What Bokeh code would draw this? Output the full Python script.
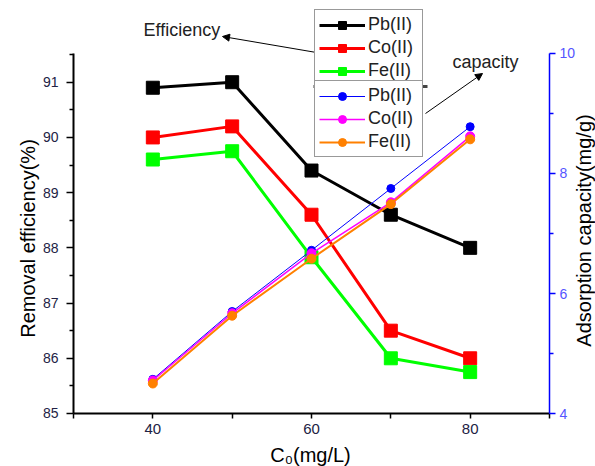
import math
from bokeh.plotting import figure
from bokeh.models import (Range1d, LinearAxis, FixedTicker, Legend, LegendItem,
                          Arrow, NormalHead, Label)
from bokeh.embed import file_html
from bokeh.resources import INLINE

# ---- data ----
conc = [40, 50, 60, 70, 80]
eff_pb = [90.9, 91.0, 89.4, 88.6, 88.0]
eff_co = [90.0, 90.2, 88.6, 86.5, 86.0]
eff_fe = [89.6, 89.75, 87.83, 86.0, 85.75]
cap_pb = [4.57, 5.7, 6.72, 7.75, 8.78]
cap_co = [4.55, 5.67, 6.67, 7.52, 8.62]
cap_fe = [4.5, 5.63, 6.58, 7.49, 8.57]
labels = ["Pb(II)", "Co(II)", "Fe(II)"]
x_ticks = [30, 40, 50, 60, 70, 80, 90]
x_tick_labels = {30: "", 40: "40", 50: "", 60: "60", 70: "", 80: "80", 90: ""}
y_ticks = [85, 86, 87, 88, 89, 90, 91]
y_minor = [85.5, 86.5, 87.5, 88.5, 89.5, 90.5, 91.5]
cap_ticks = [4, 6, 8, 10]
cap_minor = [5, 7, 9]

FONT = "Liberation Sans"
W, H = 595, 466

# frame covers the whole canvas; axes are placed at fixed data locations with bounds
p = figure(width=W, height=H, x_range=Range1d(20.798, 95.798), y_range=Range1d(84.040, 92.480),
           output_backend="svg", toolbar_location=None,
           min_border_left=0, min_border_right=0, min_border_top=0, min_border_bottom=0)
p.extra_y_ranges = {"cap": Range1d(3.1167, 10.8833)}
p.xgrid.visible = False
p.ygrid.visible = False
p.outline_line_color = None
p.background_fill_color = "white"

# bottom axis
xa = p.xaxis[0]
xa.ticker = FixedTicker(ticks=x_ticks, minor_ticks=[])
xa.major_label_overrides = x_tick_labels
xa.bounds = (30, 90)
xa.fixed_location = 85
# left axis
ya = p.yaxis[0]
ya.ticker = FixedTicker(ticks=y_ticks, minor_ticks=y_minor)
ya.bounds = (85, 91.52)
ya.fixed_location = 30

for ax in (xa, ya):
    ax.axis_line_color = "black"
    ax.axis_line_width = 2
    ax.major_tick_line_color = "black"
    ax.minor_tick_line_color = "black"
    ax.major_tick_line_width = 1.5
    ax.minor_tick_line_width = 1.5
    ax.major_tick_in = 0
    ax.minor_tick_in = 0
    ax.major_label_text_font = FONT
    ax.major_label_text_color = "#222244"

xa.major_tick_out = 5
xa.major_label_standoff = 6
xa.major_label_text_font_size = "15px"

ya.major_tick_out = 7
ya.minor_tick_out = 4
ya.major_label_standoff = 8
ya.major_label_text_font_size = "14px"

# right axis
ra = LinearAxis(y_range_name="cap", ticker=FixedTicker(ticks=cap_ticks, minor_ticks=cap_minor),
                bounds=(4, 10), fixed_location=90)
ra.axis_line_color = "#0000ff"
ra.axis_line_width = 1.5
ra.major_tick_line_color = "#0000ff"
ra.minor_tick_line_color = "#0000ff"
ra.major_tick_line_width = 1.5
ra.minor_tick_line_width = 1.5
ra.major_tick_in = 0
ra.minor_tick_in = 0
ra.major_tick_out = 6
ra.minor_tick_out = 4
ra.major_label_standoff = 4
ra.major_label_text_font = FONT
ra.major_label_text_font_size = "14px"
ra.major_label_text_color = "#5555ff"
p.add_layout(ra, "right")

# axis titles
p.add_layout(Label(x=27, y=H - 238, x_units="screen", y_units="screen",
                   text="Removal efficiency(%)", angle=math.pi / 2,
                   text_align="center", text_baseline="middle",
                   text_font=FONT, text_font_size="20px", text_color="black"))
p.add_layout(Label(x=583, y=H - 230, x_units="screen", y_units="screen",
                   text="Adsorption capacity(mg/g)", angle=math.pi / 2,
                   text_align="center", text_baseline="middle",
                   text_font=FONT, text_font_size="20px", text_color="black"))
p.add_layout(Label(x=310, y=H - 454, x_units="screen", y_units="screen",
                   text="C₀(mg/L)", text_align="center", text_baseline="middle",
                   text_font=FONT, text_font_size="20px", text_color="black"))

# efficiency series
eff_items = []
for ys, col in zip([eff_pb, eff_co, eff_fe], ["black", "#ff0000", "#00ff00"]):
    l = p.line(conc, ys, line_color=col, line_width=3)
    s = p.scatter(conc, ys, marker="square", size=13, fill_color=col, line_color=col)
    eff_items.append((l, s))

# capacity series
cap_items = []
for ys, col, lw, sz in zip([cap_pb, cap_co, cap_fe], ["#0000ff", "#ff00ff", "#ff8000"],
                           [1, 1.5, 2], [8, 9, 9]):
    l = p.line(conc, ys, line_color=col, line_width=lw, y_range_name="cap")
    s = p.scatter(conc, ys, marker="circle", size=sz, fill_color=col, line_color=col,
                  y_range_name="cap")
    cap_items.append((l, s))


def make_legend(items, loc):
    leg = Legend(items=[LegendItem(label=lab, renderers=list(r)) for lab, r in zip(labels, items)],
                 location=loc)
    leg.label_text_font = FONT
    leg.label_text_font_size = "18px"
    leg.label_text_color = "#222222"
    leg.padding = 4
    leg.spacing = 2
    leg.glyph_height = 20
    leg.label_height = 20
    leg.glyph_width = 46
    leg.label_standoff = 3
    leg.label_width = 50
    leg.margin = 0
    leg.border_line_color = "#333333"
    leg.border_line_width = 1.5
    leg.background_fill_color = "white"
    leg.background_fill_alpha = 1
    return leg


p.add_layout(make_legend(eff_items, (314, H - 86)))
p.add_layout(make_legend(cap_items, (314, H - 157)))

# separator line between legend groups
p.add_layout(Arrow(start=None, end=None, x_start=313, y_start=H - 86, x_end=427, y_end=H - 86,
                   start_units="screen", end_units="screen", line_color="#444444", line_width=3))

# annotation arrows
p.add_layout(Arrow(end=NormalHead(size=7, fill_color="black", line_color="black"),
                   x_start=316, y_start=H - 52, x_end=222, y_end=H - 36,
                   start_units="screen", end_units="screen", line_color="black", line_width=1))
p.add_layout(Arrow(end=NormalHead(size=7, fill_color="black", line_color="black"),
                   x_start=425, y_start=H - 113, x_end=482, y_end=H - 73,
                   start_units="screen", end_units="screen", line_color="black", line_width=1))

p.add_layout(Label(x=143, y=H - 29, x_units="screen", y_units="screen", text="Efficiency",
                   text_font=FONT, text_font_size="18px", text_color="#222222",
                   text_baseline="alphabetic"))
p.add_layout(Label(x=452, y=H - 61, x_units="screen", y_units="screen", text="capacity",
                   text_font=FONT, text_font_size="18px", text_color="#222222",
                   text_baseline="alphabetic"))

open("out.html", "w").write(file_html(p, INLINE))
